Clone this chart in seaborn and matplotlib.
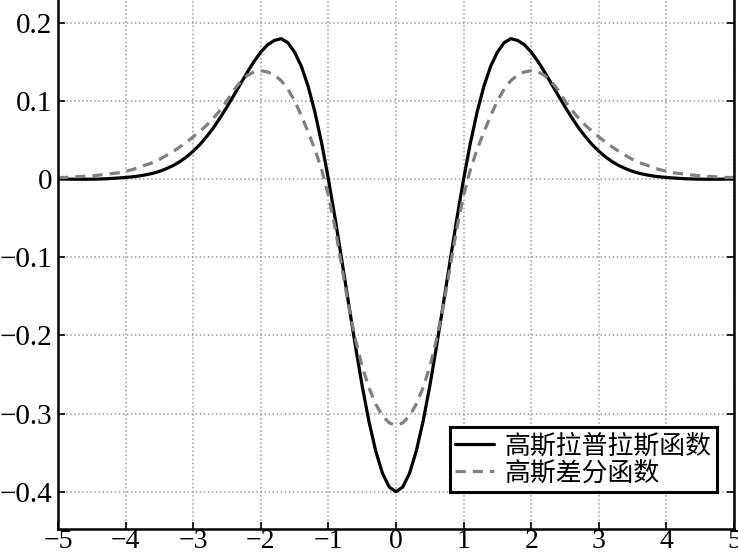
import numpy as np
import pandas as pd
import matplotlib
matplotlib.use("Agg")
import matplotlib.pyplot as plt
import seaborn as sns

# x grid, step 0.1 from -5 to 5
x = np.round(np.linspace(-5, 5, 101), 1)

# values (solid curve)
log_vals = [
    0.0000, -0.0001, -0.0002, -0.0003, -0.0003, -0.0002, 0.0000, 0.0003, 0.0008, 0.0013,
    0.0020, 0.0028, 0.0039, 0.0054, 0.0073, 0.0098, 0.0131, 0.0171, 0.0221, 0.0282,
    0.0356, 0.0442, 0.0543, 0.0657, 0.0785, 0.0923, 0.1069, 0.1218, 0.1366, 0.1504,
    0.1624, 0.1717, 0.1773, 0.1795, 0.1745, 0.1623, 0.1441, 0.1186, 0.0857, 0.0459,
    0.0000, -0.0507, -0.1046, -0.1597, -0.2138, -0.2648, -0.3102, -0.3480, -0.3764, -0.3940,
    -0.4000,
    -0.3940, -0.3764, -0.3480, -0.3102, -0.2648, -0.2138, -0.1597, -0.1046, -0.0507, 0.0000,
    0.0459, 0.0857, 0.1186, 0.1441, 0.1623, 0.1745, 0.1795, 0.1773, 0.1717, 0.1624,
    0.1504, 0.1366, 0.1218, 0.1069, 0.0923, 0.0785, 0.0657, 0.0543, 0.0442, 0.0356,
    0.0282, 0.0221, 0.0171, 0.0131, 0.0098, 0.0073, 0.0054, 0.0039, 0.0028, 0.0020,
    0.0013, 0.0008, 0.0003, 0.0000, -0.0002, -0.0003, -0.0003, -0.0002, -0.0001, 0.0000,
]

# values (dashed curve)
dog_vals = [
    0.0020, 0.0020, 0.0025, 0.0030, 0.0035, 0.0040, 0.0050, 0.0060, 0.0070, 0.0080,
    0.0100, 0.0120, 0.0150, 0.0180, 0.0210, 0.0250, 0.0300, 0.0350, 0.0410, 0.0470,
    0.0540, 0.0610, 0.0690, 0.0780, 0.0880, 0.1000, 0.1135, 0.1245, 0.1325, 0.1370,
    0.1385, 0.1370, 0.1330, 0.1260, 0.1150, 0.1000, 0.0810, 0.0600, 0.0380, 0.0120,
    -0.0210, -0.0630, -0.1130, -0.1630, -0.2050, -0.2400, -0.2670, -0.2880, -0.3030, -0.3120,
    -0.3150,
    -0.3120, -0.3030, -0.2880, -0.2670, -0.2400, -0.2050, -0.1630, -0.1130, -0.0630, -0.0210,
    0.0120, 0.0380, 0.0600, 0.0810, 0.1000, 0.1150, 0.1260, 0.1330, 0.1370, 0.1385,
    0.1370, 0.1325, 0.1245, 0.1135, 0.1000, 0.0880, 0.0780, 0.0690, 0.0610, 0.0540,
    0.0470, 0.0410, 0.0350, 0.0300, 0.0250, 0.0210, 0.0180, 0.0150, 0.0120, 0.0100,
    0.0080, 0.0070, 0.0060, 0.0050, 0.0040, 0.0035, 0.0030, 0.0025, 0.0020, 0.0020,
]

series_names = ["高斯拉普拉斯函数", "高斯差分函数"]
x_ticks = [-5, -4, -3, -2, -1, 0, 1, 2, 3, 4, 5]
x_tick_labels = ["\u22125", "\u22124", "\u22123", "\u22122", "\u22121", "0", "1", "2", "3", "4", "5"]
y_ticks = [-0.4, -0.3, -0.2, -0.1, 0, 0.1, 0.2]
y_tick_labels = ["\u22120.4", "\u22120.3", "\u22120.2", "\u22120.1", "0", "0.1", "0.2"]

sns.set_theme(style="white")
plt.rcParams["font.family"] = ["Liberation Serif", "DejaVu Serif"]

fig = plt.figure(figsize=(7.38, 5.54), dpi=100)
ax = fig.add_axes([58 / 738, 25 / 554, 676 / 738, 529 / 554])

df = pd.DataFrame({"x": x, "log": log_vals, "dog": dog_vals})

sns.lineplot(data=df, x="x", y="log", ax=ax, color="black", linewidth=2.3,
             label=series_names[0], errorbar=None)
sns.lineplot(data=df, x="x", y="dog", ax=ax, color="#808080", linewidth=2.3,
             linestyle=(0, (3.2, 2.2)), label=series_names[1], errorbar=None)

ax.set_xlim(-5, 5)
ax.set_ylim(-0.4477, 0.229)
ax.set_xticks(x_ticks)
ax.set_xticklabels(x_tick_labels, fontfamily="Liberation Serif", fontsize=20)
ax.set_yticks(y_ticks)
ax.set_yticklabels(y_tick_labels, fontfamily="Liberation Serif", fontsize=21)
ax.set_xlabel("")
ax.set_ylabel("")

ax.grid(True, linestyle=":", color="#9a9a9a", linewidth=1.1)
ax.set_axisbelow(True)

for side in ["left", "right", "bottom"]:
    ax.spines[side].set_visible(True)
    ax.spines[side].set_color("black")
    ax.spines[side].set_linewidth(1.8)
ax.spines["top"].set_visible(False)

ax.tick_params(axis="both", direction="in", length=5, width=1.2, color="black",
               labelcolor="black", right=True, left=True, bottom=True)
ax.tick_params(axis="y", pad=4)
ax.tick_params(axis="x", pad=0)

leg = ax.legend(loc="lower right", bbox_to_anchor=(0.975, 0.070), borderaxespad=0,
                prop={"family": ["Noto Sans CJK SC"], "size": 18.6},
                handlelength=1.5, handletextpad=0.4, labelspacing=0.0,
                borderpad=0.22, fancybox=False, framealpha=1, edgecolor="black")
leg.get_frame().set_linewidth(2.2)
for t in leg.get_texts():
    t.set_color("black")

fig.savefig("out.png", dpi=100)
